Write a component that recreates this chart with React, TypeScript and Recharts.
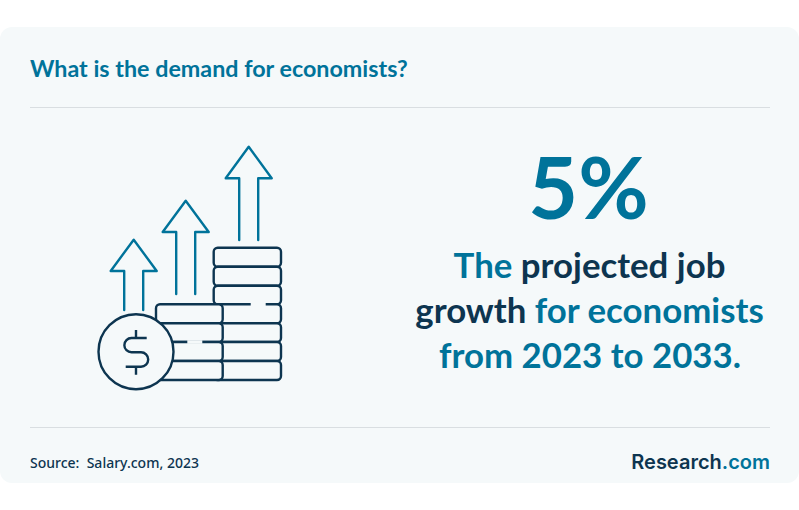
import { ComposedChart, Rectangle, Dot } from 'recharts';

const WIDTH = 799;
const HEIGHT = 510;

const TEAL = '#00739a';
const NAVY = '#0d3550';
const CARD = '#f5f9fa';
const RULE = '#d9dee1';

const titleText = 'What is the demand for economists?';
const sourceText = 'Source:  Salary.com, 2023';
const growthLabel = '5%';
const messageLines = [
  { y: 278, x: 589.5, parts: [['The ', TEAL], ['projected job', NAVY]] },
  { y: 323, x: 589.5, parts: [['growth ', NAVY], ['for economists', TEAL]] },
  { y: 368, x: 590, parts: [['from 2023 to 2033.', TEAL]] },
];

// icon pieces, each coin stack as row boundaries
const rightStackRows = [247.7, 266.7, 285.7, 304.3, 323.3, 342, 361, 380];
const leftStackRows = [304.3, 323.3, 342, 361, 380];
const arrows = [
  { cx: 248.7, top: 146.7, wing: 178.3, bottom: 240 },
  { cx: 185.7, top: 200.7, wing: 232, bottom: 294 },
  { cx: 133.7, top: 239.7, wing: 271, bottom: 310 },
];

function Arrow({ cx, top, wing, bottom }: { cx: number; top: number; wing: number; bottom: number }) {
  const d = `M${cx - 9.5} ${bottom}V${wing}H${cx - 23}L${cx} ${top}L${cx + 23} ${wing}H${cx + 9.5}V${bottom}`;
  return <path d={d} fill="none" stroke={TEAL} strokeWidth={2.4} strokeLinejoin="round" strokeLinecap="round" />;
}

function CoinStack({ x, width, rows }: { x: number; width: number; rows: number[] }) {
  return (
    <g>
      {rows.slice(0, -1).map((y, i) => (
        <Rectangle
          key={i}
          x={x}
          y={y}
          width={width}
          height={rows[i + 1] - y}
          radius={4}
          fill={CARD}
          stroke={NAVY}
          strokeWidth={2.4}
          isAnimationActive={false}
        />
      ))}
    </g>
  );
}

function Icon() {
  return (
    <g>
      {arrows.map((a) => (
        <Arrow key={a.cx} {...a} />
      ))}
      <CoinStack x={213.7} width={67.3} rows={rightStackRows} />
      <line x1={250.7} x2={265.7} y1={304.3} y2={304.3} stroke={CARD} strokeWidth={3.6} />
      <CoinStack x={156} width={66.7} rows={leftStackRows} />
      <line x1={187.3} x2={202.3} y1={342} y2={342} stroke={CARD} strokeWidth={3.6} />
      <Dot cx={136} cy={351.7} r={37.5} fill={CARD} stroke={NAVY} strokeWidth={2.4} />
      <path
        d="M146.7 338H131.5A7.15 7.15 0 0 0 131.5 352.3H141A7.2 7.2 0 0 1 141 366.7H125.7M136 330V338M136 366.7V374.7"
        fill="none"
        stroke={NAVY}
        strokeWidth={2.4}
      />
    </g>
  );
}

export default function App() {
  return (
    <div style={{ position: 'absolute', left: 0, top: 0, width: WIDTH, height: HEIGHT, background: '#fff' }}>
      <ComposedChart width={WIDTH} height={HEIGHT} margin={{ top: 0, right: 0, bottom: 0, left: 0 }}>
        <Rectangle x={0} y={27} width={WIDTH} height={456} radius={12} fill={CARD} isAnimationActive={false} />

        <text x={30} y={76.5} fontFamily="Lato" fontWeight={700} fontSize={23.3} fill={TEAL}>
          {titleText}
        </text>
        <line x1={30} x2={770} y1={107.5} y2={107.5} stroke={RULE} strokeWidth={1} />

        <Icon />

        <text x={588.5} y={219} textAnchor="middle" fontFamily="Lato" fontWeight={700} fontSize={86} fill={TEAL}>
          {growthLabel}
        </text>
        {messageLines.map((line) => (
          <text key={line.y} x={line.x} y={line.y} textAnchor="middle" fontFamily="Lato" fontWeight={700} fontSize={34.8}>
            {line.parts.map(([t, c]) => (
              <tspan key={t} fill={c} xmlSpace="preserve">
                {t}
              </tspan>
            ))}
          </text>
        ))}

        <line x1={30} x2={770} y1={427.5} y2={427.5} stroke={RULE} strokeWidth={1} />
        <text x={30} y={468} fontFamily="Noto Sans" fontWeight={500} fontSize={14} fill={NAVY} xmlSpace="preserve">
          {sourceText}
        </text>
        <text x={770} y={468.5} textAnchor="end" fontFamily="Inter" fontWeight={600} fontSize={20}>
          <tspan fill={NAVY}>Research</tspan>
          <tspan fill={TEAL}>.com</tspan>
        </text>
      </ComposedChart>
    </div>
  );
}
